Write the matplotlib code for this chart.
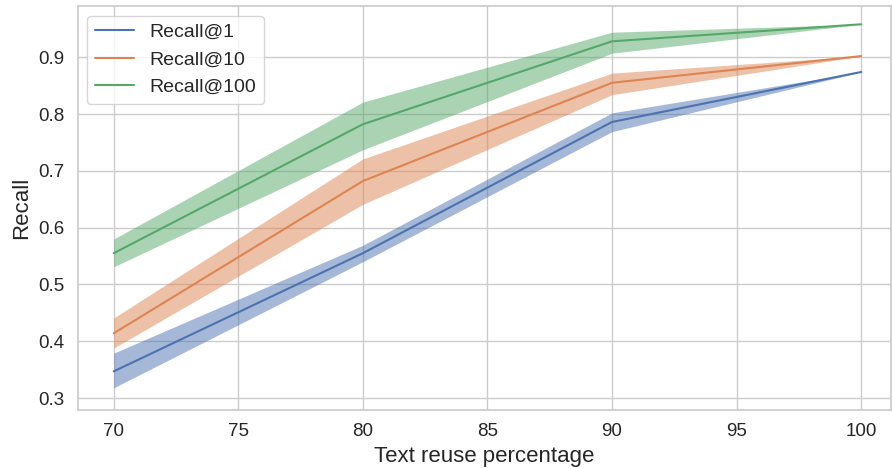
import matplotlib
matplotlib.use("Agg")
import matplotlib.pyplot as plt
import seaborn as sns

sns.set_theme(style="whitegrid", palette="deep")
plt.rcParams["font.family"] = ["Liberation Sans", "DejaVu Sans"]

reuse = [70, 80, 90, 100]

r1_mean = [0.347, 0.555, 0.786, 0.874]
r1_low = [0.318, 0.540, 0.769, 0.874]
r1_high = [0.379, 0.569, 0.802, 0.874]

r10_mean = [0.414, 0.682, 0.855, 0.902]
r10_low = [0.388, 0.641, 0.834, 0.902]
r10_high = [0.441, 0.721, 0.872, 0.902]

r100_mean = [0.555, 0.782, 0.928, 0.958]
r100_low = [0.531, 0.737, 0.907, 0.958]
r100_high = [0.580, 0.821, 0.944, 0.958]

series = [
    ("Recall@1", r1_mean, r1_low, r1_high),
    ("Recall@10", r10_mean, r10_low, r10_high),
    ("Recall@100", r100_mean, r100_low, r100_high),
]

colors = sns.color_palette("deep")

fig = plt.figure(figsize=(8.92, 4.68), dpi=100)
ax = fig.add_axes([0.087, 0.124, 0.912, 0.863])

for i, (name, mean, low, high) in enumerate(series):
    ax.fill_between(reuse, low, high, color=colors[i], alpha=0.5, linewidth=0)
    ax.plot(reuse, mean, color=colors[i], linewidth=1.5, label=name)

ax.set_xlim(68.55, 101.2)
ax.set_ylim(0.279, 0.99)
ax.set_xticks([70, 75, 80, 85, 90, 95, 100])
ax.set_yticks([0.3, 0.4, 0.5, 0.6, 0.7, 0.8, 0.9])
ax.tick_params(labelsize=13.5)
ax.set_xlabel("Text reuse percentage", fontsize=16)
ax.set_ylabel("Recall", fontsize=16)
ax.legend(loc="upper left", fontsize=14)

fig.savefig("out.png", dpi=100)
